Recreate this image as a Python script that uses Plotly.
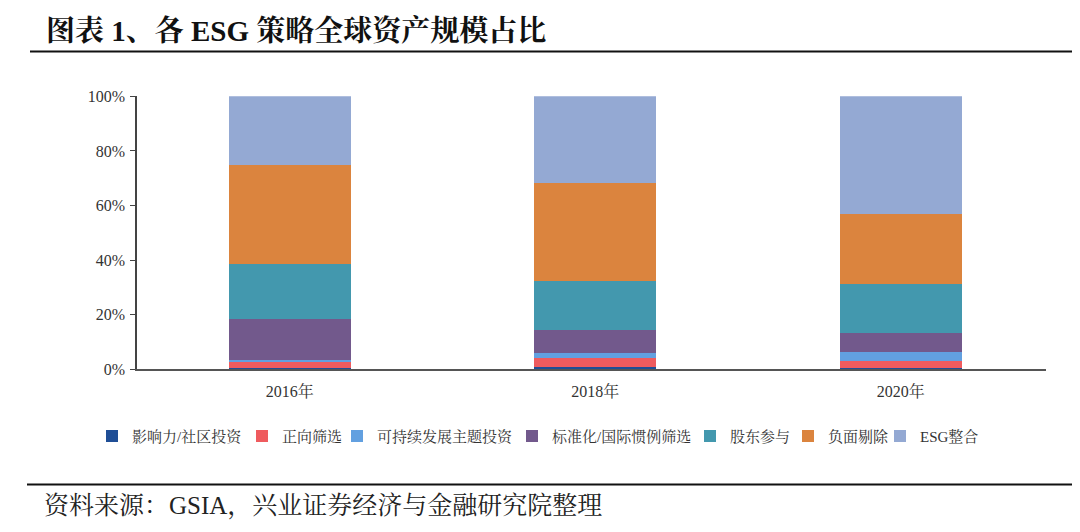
import plotly.graph_objects as go

# 年份与各 ESG 策略占比（%）
years = ["2016年", "2018年", "2020年"]
strategies = [
    "影响力/社区投资",
    "正向筛选",
    "可持续发展主题投资",
    "标准化/国际惯例筛选",
    "股东参与",
    "负面剔除",
    "ESG整合",
]
impact = [0.6, 0.8, 0.6]
positive = [2.0, 3.3, 2.4]
themed = [0.7, 1.8, 3.3]
norms = [15.0, 8.5, 7.1]
engagement = [20.3, 17.9, 17.9]
negative = [36.4, 35.9, 25.7]
integration = [25.0, 31.8, 43.0]

series = [impact, positive, themed, norms, engagement, negative, integration]
colors = ["#1F4E96", "#EF5B5E", "#62A0E0", "#72598C", "#4398AE", "#DB843E", "#94A9D3"]

y_ticks = [0, 20, 40, 60, 80, 100]
y_tick_text = [f"{v}%" for v in y_ticks]

FONT = "Liberation Serif, Noto Serif CJK SC, Noto Sans CJK SC, serif"
W, H = 1080, 532


def px_y(y):
    """像素位置(自上而下) -> paper 坐标"""
    return (H - y) / H


def px_x(x):
    return x / W


# 每个图例项单独摆放，位置对齐原图文字
legend_x = [84, 234, 329, 504, 682, 780, 872]

fig = go.Figure()
legend_layout = {}
for i, (name, vals, col) in enumerate(zip(strategies, series, colors)):
    key = f"legend{i + 2}"
    fig.add_trace(
        go.Bar(
            x=years,
            y=vals,
            name=name,
            marker=dict(color=col, line=dict(width=0)),
            width=0.4,
            legend=key,
        )
    )
    legend_layout[key] = dict(
        orientation="h",
        x=px_x(legend_x[i]),
        xanchor="left",
        y=px_y(434),
        yanchor="middle",
        font=dict(size=15, color="#333333"),
        itemwidth=30,
        bgcolor="rgba(0,0,0,0)",
    )

fig.update_layout(
    barmode="stack",
    width=W,
    height=H,
    margin=dict(l=0, r=0, t=0, b=0),
    paper_bgcolor="white",
    plot_bgcolor="white",
    font=dict(family=FONT, color="#333333", size=16),
    xaxis=dict(
        domain=[px_x(129), px_x(1038)],
        range=[-0.5, 2.475],
        showline=True,
        linecolor="#555555",
        linewidth=2,
        ticks="",
        showgrid=False,
        ticklabelstandoff=6,
        tickfont=dict(size=16, color="#333333"),
    ),
    yaxis=dict(
        domain=[px_y(365), px_y(83)],
        range=[0, 100],
        tickvals=y_ticks,
        ticktext=y_tick_text,
        showline=True,
        linecolor="#444444",
        linewidth=1.5,
        ticks="outside",
        ticklen=5,
        tickcolor="#444444",
        showgrid=False,
        zeroline=False,
        ticklabelstandoff=2,
        tickfont=dict(size=16, color="#333333"),
    ),
    **legend_layout,
)

# 标题与资料来源
fig.add_annotation(
    text="<b>图表 1、各 ESG 策略全球资产规模占比</b>",
    xref="paper", yref="paper",
    x=px_x(36), y=px_y(15),
    xanchor="left", yanchor="middle",
    showarrow=False,
    font=dict(family=FONT, size=29, color="#111111"),
)
fig.add_annotation(
    text="资料来源：GSIA，兴业证券经济与金融研究院整理",
    xref="paper", yref="paper",
    x=px_x(34), y=px_y(506),
    xanchor="left", yanchor="middle",
    showarrow=False,
    font=dict(family=FONT, size=25, color="#222222"),
)
fig.add_shape(
    type="line", xref="paper", yref="paper",
    x0=px_x(22), x1=1, y0=px_y(36.6), y1=px_y(36.6),
    line=dict(color="#111111", width=2),
)
fig.add_shape(
    type="line", xref="paper", yref="paper",
    x0=px_x(19), x1=1, y0=px_y(484), y1=px_y(484),
    line=dict(color="#111111", width=2),
)

fig.write_html("out.html")
